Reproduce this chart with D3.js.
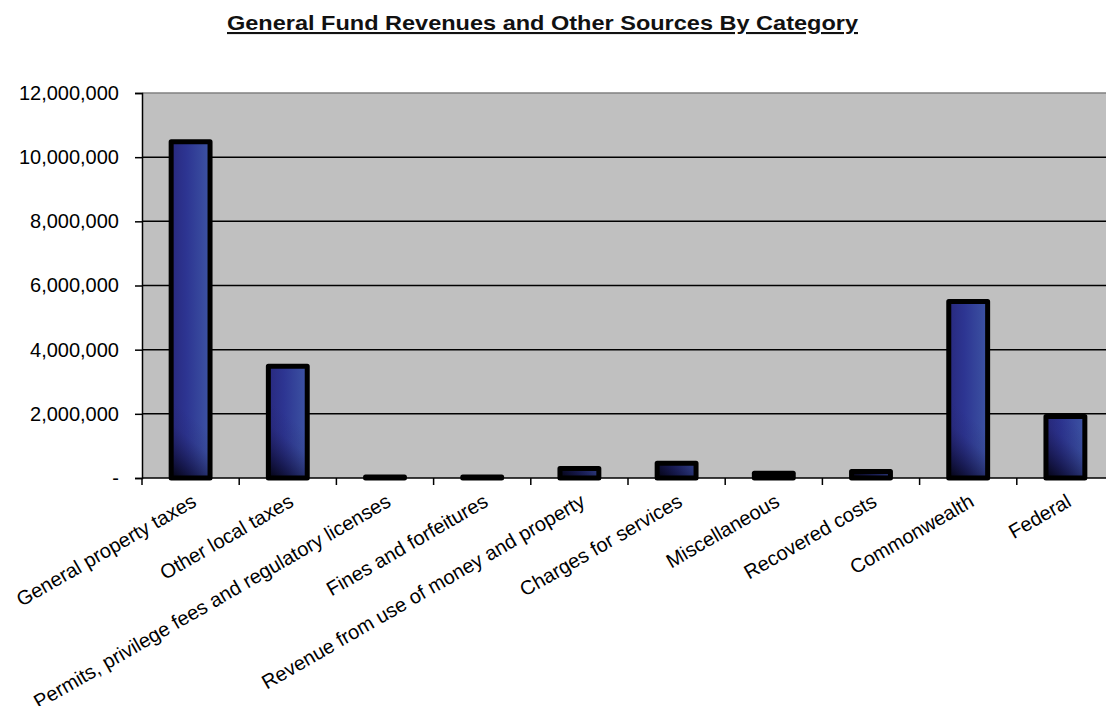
<!DOCTYPE html>
<html><head><meta charset="utf-8">
<script src="https://cdn.jsdelivr.net/npm/d3@7"></script>
<style>body{margin:0;background:#fff;} svg{display:block;}</style>
</head><body>
<svg id="c" width="1106" height="706"></svg>
<script>
const categories = ["General property taxes","Other local taxes","Permits, privilege fees and regulatory licenses","Fines and forfeitures","Revenue from use of money and property","Charges for services","Miscellaneous","Recovered costs","Commonwealth","Federal"];
const values = [10480000,3480000,30000,30000,300000,460000,150000,200000,5500000,1920000];
const yTicks = [0,2000000,4000000,6000000,8000000,10000000,12000000];
const title = "General Fund Revenues and Other Sources By Category";

const svg = d3.select("#c");
const L=142, T=93, B=478, R=1114;
const font = "'Liberation Sans', Arial, sans-serif";

const x = d3.scaleBand().domain(categories).range([L,R]).paddingInner(0.6).paddingOuter(0.3);
const y = d3.scaleLinear().domain([0,12000000]).range([B,T]);
const w = x.bandwidth();

const defs = svg.append("defs");
const hg = defs.append("linearGradient").attr("id","hg").attr("x1",0).attr("y1",0).attr("x2",1).attr("y2",0);
[[0,"#28297e"],[0.4,"#2d3592"],[1,"#3d54a3"]].forEach(s=>hg.append("stop").attr("offset",s[0]).attr("stop-color",s[1]));
categories.forEach((c,i)=>{
  const gr = defs.append("linearGradient").attr("id","dg"+i).attr("gradientUnits","userSpaceOnUse")
    .attr("x1",x(c)).attr("y1",B).attr("x2",x(c)+w).attr("y2",B-w*1.2);
  [[0,"#03030e",1],[0.3,"#0c0c30",0.65],[0.7,"#1a1a50",0.12],[1,"#1a1a50",0]].forEach(s=>
    gr.append("stop").attr("offset",s[0]).attr("stop-color",s[1]).attr("stop-opacity",s[2]));
});

svg.append("rect").attr("x",L).attr("y",T).attr("width",R-L).attr("height",B-T).attr("fill","#c0c0c0");
svg.append("line").attr("x1",L).attr("x2",R).attr("y1",T).attr("y2",T).attr("stroke","#808080").attr("stroke-width",1.5);

// gridlines
svg.append("g").selectAll("line").data(yTicks.filter(d=>d>0 && d<12000000)).join("line")
 .attr("x1",L).attr("x2",R).attr("y1",d=>y(d)).attr("y2",d=>y(d)).attr("stroke","#000").attr("stroke-width",1.5);

// y axis
const ya = svg.append("g").attr("transform",`translate(${L},0)`)
 .call(d3.axisLeft(y).tickValues(yTicks).tickSize(7).tickPadding(16).tickFormat(d=>d===0?"-":d3.format(",")(d)));
ya.select(".domain").attr("stroke","#000").attr("stroke-width",1.5);
ya.selectAll(".tick line").attr("stroke","#000").attr("stroke-width",1.5);
ya.selectAll("text").attr("font-family",font).attr("font-size",20).attr("fill","#000");

// x axis line + ticks
svg.append("line").attr("x1",L).attr("x2",R).attr("y1",B).attr("y2",B).attr("stroke","#000").attr("stroke-width",1.5);
const step = x.step();
svg.append("g").selectAll("line").data(d3.range(categories.length+1)).join("line")
 .attr("x1",i=>L+i*step).attr("x2",i=>L+i*step).attr("y1",B).attr("y2",B+7).attr("stroke","#000").attr("stroke-width",1.5);

// bars
const bars = svg.append("g").selectAll("g").data(categories).join("g");
bars.append("rect").attr("x",d=>x(d)).attr("width",w)
 .attr("y",(d,i)=>y(values[i])).attr("height",(d,i)=>B-y(values[i])).attr("fill","url(#hg)");
bars.append("rect").attr("x",d=>x(d)).attr("width",w)
 .attr("y",(d,i)=>y(values[i])).attr("height",(d,i)=>B-y(values[i]))
 .attr("fill",(d,i)=>`url(#dg${i})`).attr("stroke","#000").attr("stroke-width",5).attr("stroke-linejoin","round");

// x labels
svg.append("g").selectAll("text").data(categories).join("text")
 .attr("transform",d=>`translate(${x(d)+w/2},${B+15}) rotate(-30)`)
 .attr("text-anchor","end").attr("dy","0.71em")
 .attr("font-family",font).attr("font-size",20).attr("fill","#000").text(d=>d);

// title
svg.append("text").attr("x",542.5).attr("y",30).attr("text-anchor","middle")
 .attr("font-family",font).attr("font-size",21).attr("font-weight","bold")
 .attr("textLength",631).attr("lengthAdjust","spacingAndGlyphs")
 .attr("text-decoration","underline").attr("fill","#111").text(title);
</script>
</body></html>
